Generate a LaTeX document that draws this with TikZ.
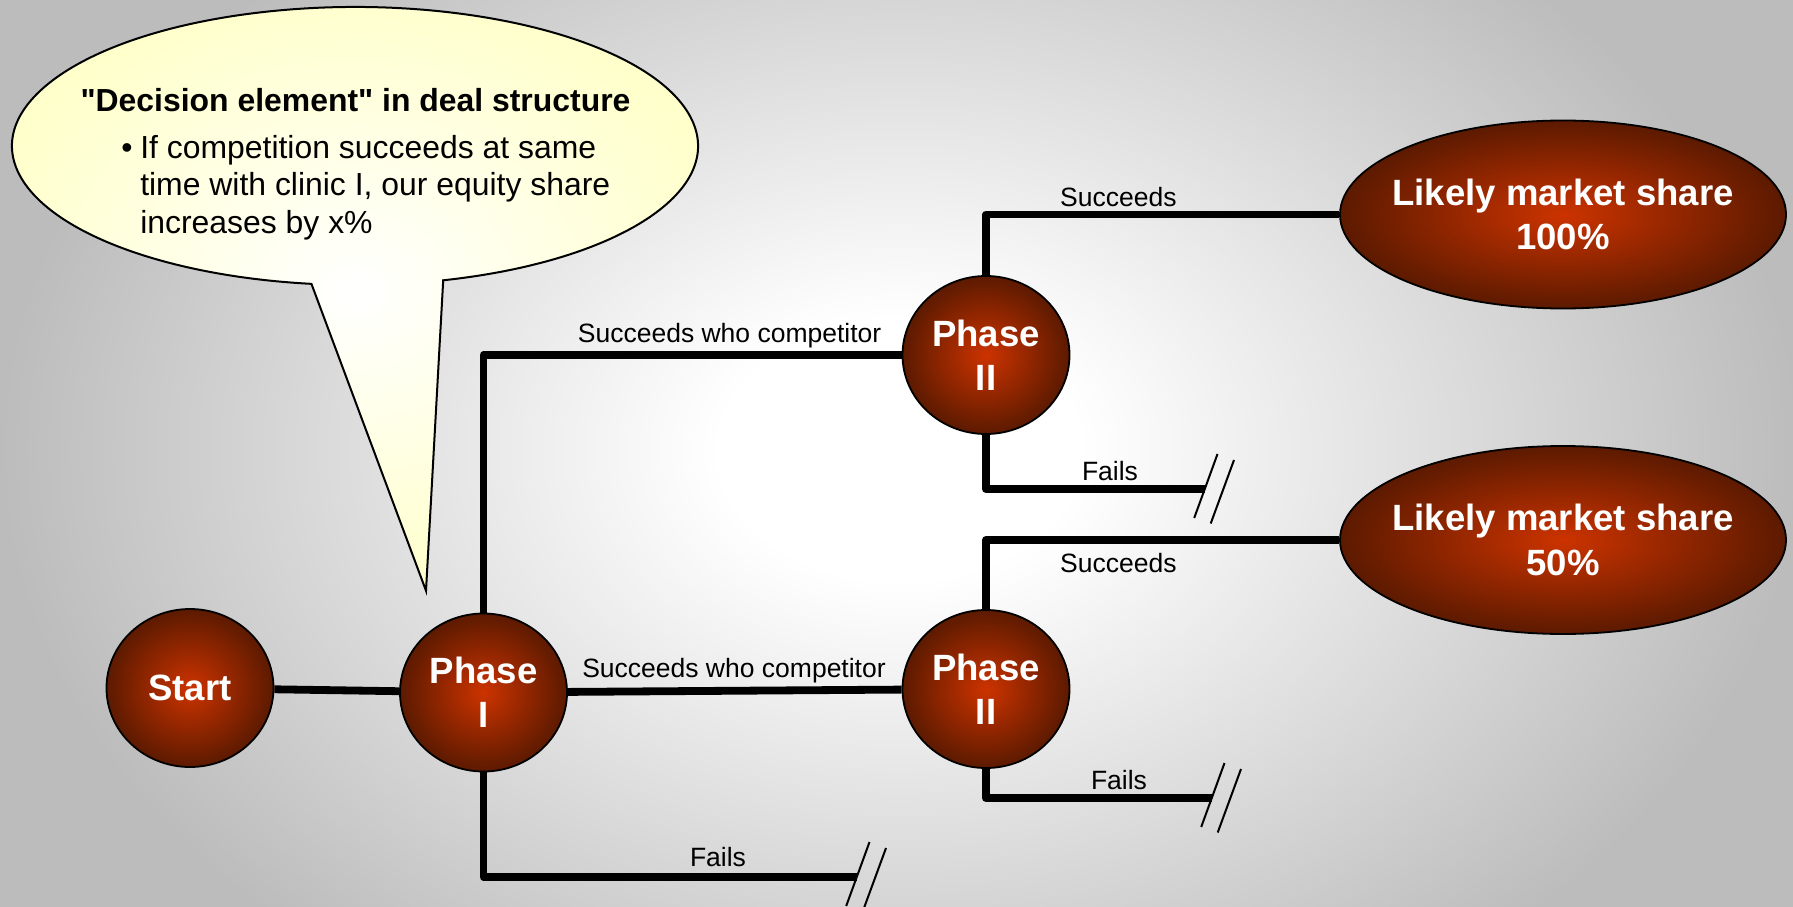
\documentclass[tikz,border=0pt]{standalone}
\usepackage{fontspec}
\setmainfont{Liberation Sans}
\usetikzlibrary{shapes.geometric, calc}

\definecolor{phasecore}{RGB}{204,51,0}
\definecolor{phaserim}{RGB}{92,26,0}
\definecolor{notefill}{RGB}{255,255,204}
\definecolor{bgedge}{RGB}{188,188,188}

\pgfdeclareradialshading{bgglow}{\pgfpoint{0bp}{0bp}}{color(0bp)=(white); color(5bp)=(white); color(25bp)=(bgedge); color(50bp)=(bgedge)}

\begin{document}
\begin{tikzpicture}[
    x=0.25mm, y=-0.25mm,
    stage/.style={ellipse, draw=black, line width=0.45mm, inner sep=0pt,
        inner color=phasecore, outer color=phaserim, text=white, align=center,
        font=\fontsize{26}{31.6}\selectfont\bfseries,
        minimum width=41.75mm, minimum height=39.5mm},
    outcome/.style={stage, inner xsep=-4mm, minimum width=111.5mm, minimum height=47mm},
    link/.style={line width=1.95mm, line join=round},
    lbl/.style={font=\fontsize{18.85}{22}\selectfont, anchor=base, inner sep=0pt},
    note/.style={font=\fontsize{22.7}{26.7}\selectfont, inner sep=0pt},
    slash/.style={line width=0.5mm},
    brk/.pic={\draw[slash] (12.5,-35) -- (-10.8,29); \draw[slash] (29,-29) -- (5.7,34.5);}
    ]

    % Background
    \useasboundingbox (0,0) rectangle (1793,907);
    \begin{scope}
        \clip (0,0) rectangle (1793,907);
        \shade[shading=bgglow] (0,-200) rectangle (1800,1100);
    \end{scope}

    % Callout
    \shadedraw[line width=0.5mm, inner color=white, outer color=notefill]
        (443.2,280.3) arc[start angle=75.1, end angle=-262.7, x radius=343, y radius=139]
        -- (426,590.7) -- cycle;
    \node[note, font=\fontsize{22.7}{26.7}\selectfont\bfseries, anchor=base] (notehead) at (355.5,111.7) {\textquotedbl Decision element\textquotedbl{} in deal structure};
    \node[note, anchor=base] (bullet) at (127,158.3) {\textbullet};
    \node[note, anchor=base west] (line1) at (140,158.3) {If competition succeeds at same};
    \node[note, anchor=base west] (line2) at (140,195.8) {time with clinic I, our equity share};
    \node[note, anchor=base west] (line3) at (140,233.3) {increases by x\%};

    % Stages
    \node[stage] (start) at (190,688) {Start};
    \node[stage] (ph1) at (483.5,692.5) {Phase\\I};
    \node[stage] (ph2a) at (986,355) {Phase\\II};
    \node[stage] (ph2b) at (986,689) {Phase\\II};

    % Outcomes
    \node[outcome] (ms100) at (1563,214.5) {Likely market share\\100\%};
    \node[outcome] (ms50) at (1563,540) {Likely market share\\50\%};

    % Dead ends
    \coordinate (f1) at (857,877);
    \coordinate (f2) at (1205,489);
    \coordinate (f3) at (1212,798);

    % Branches
    \draw[link] (start) -- (ph1);
    \draw[link] (ph1) |- (ph2a);
    \draw[link] (ph1) -- (ph2b);
    \draw[link] (ph1) |- (f1);
    \draw[link] (ph2a) |- (ms100);
    \draw[link] (ph2a) |- (f2);
    \draw[link] (ph2b) |- (ms50);
    \draw[link] (ph2b) |- (f3);

    \pic at (f1) {brk};
    \pic at (f2) {brk};
    \pic at (f3) {brk};

    % Branch labels
    \node[lbl] (s100) at (1118.4,206.2) {Succeeds};
    \node[lbl] (swc1) at (729.6,342.3) {Succeeds who competitor};
    \node[lbl] (fail2a) at (1110,480) {Fails};
    \node[lbl] (s50) at (1118.4,572) {Succeeds};
    \node[lbl] (swc2) at (734,677.3) {Succeeds who competitor};
    \node[lbl] (fail2b) at (1119,789.3) {Fails};
    \node[lbl] (fail1) at (718,866) {Fails};

\end{tikzpicture}
\end{document}
